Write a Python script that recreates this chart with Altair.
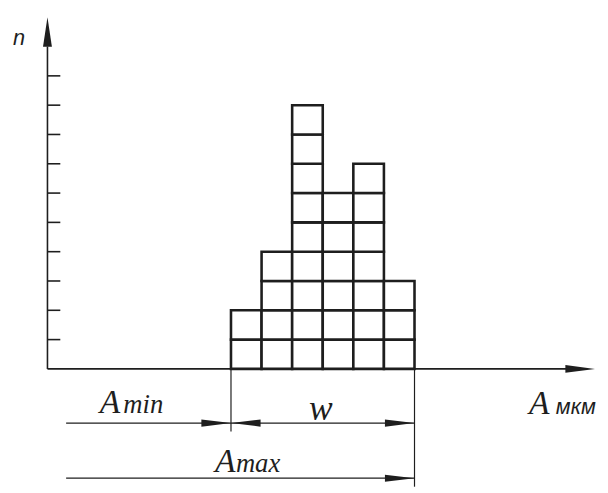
import altair as alt
import pandas as pd

# ---------------- data ----------------
bin_start = [6, 7, 8, 9, 10, 11]      # start of each size interval (interval widths from origin)
counts = [2, 4, 9, 6, 7, 3]           # number of parts n in each interval
n_ticks = [1, 2, 3, 4, 5, 6, 7, 8, 9, 10]
A_MIN = 6
A_MAX = 12

# ---------------- layout (axis units) ----------------
W, H = 600, 485
X_DOMAIN = [-40 / 31, 560 / 31]
Y_DOMAIN = [(362.5 - H) / 29.7, 362.5 / 29.7]
X_TIP, Y_TIP = 17.9, 12.0
TICK_LEN = 0.42
DIM_LEFT = 0.61
Y_DIM1, Y_DIM2 = -1.85, -3.73
EXT_LEFT_END, EXT_RIGHT_END = -2.14, -4.02
INK = "#1e1e1e"

xs = alt.Scale(domain=X_DOMAIN, nice=False, zero=False)
ys = alt.Scale(domain=Y_DOMAIN, nice=False, zero=False)

cells = pd.DataFrame([
    {"x": s, "x2": s + 1, "y": k, "y2": k + 1}
    for s, c in zip(bin_start, counts) for k in range(c)
])

segs = [
    # axes
    dict(x=0, x2=0, y=0, y2=Y_TIP - 1.0, w=1.6),
    dict(x=0, x2=X_TIP - 0.9, y=0, y2=0, w=1.6),
    # extension lines
    dict(x=A_MIN, x2=A_MIN, y=0, y2=EXT_LEFT_END, w=1.2),
    dict(x=A_MAX, x2=A_MAX, y=0, y2=EXT_RIGHT_END, w=1.2),
    # dimension lines
    dict(x=DIM_LEFT, x2=A_MIN, y=Y_DIM1, y2=Y_DIM1, w=1.3),
    dict(x=A_MIN, x2=A_MAX, y=Y_DIM1, y2=Y_DIM1, w=1.3),
    dict(x=DIM_LEFT, x2=A_MAX, y=Y_DIM2, y2=Y_DIM2, w=1.3),
]
for t in n_ticks:
    segs.append(dict(x=0, x2=TICK_LEN, y=t, y2=t, w=1.6))
segs = pd.DataFrame(segs)

RIGHT = "M0,0L-2,-0.24L-2,0.24Z"
LEFT = "M0,0L2,-0.24L2,0.24Z"
UP = "M0,0L-0.3,2L0.3,2Z"
RIGHT_AX = "M0,0L-2,-0.26L-2,0.26Z"
heads = pd.DataFrame([
    dict(x=0, y=Y_TIP, shape=UP),
    dict(x=X_TIP, y=0, shape=RIGHT_AX),
    dict(x=A_MIN, y=Y_DIM1, shape=RIGHT),
    dict(x=A_MIN, y=Y_DIM1, shape=LEFT),
    dict(x=A_MAX, y=Y_DIM1, shape=RIGHT),
    dict(x=A_MAX, y=Y_DIM2, shape=RIGHT),
])

# label text, position (axis units), font, size
labels = [
    dict(x=1.71, y=-1.50, text="A", font="Liberation Serif", size=34),
    dict(x=2.48, y=-1.50, text="min", font="Liberation Serif", size=27),
    dict(x=5.48, y=-3.52, text="A", font="Liberation Serif", size=34),
    dict(x=6.16, y=-3.52, text="max", font="Liberation Serif", size=27),
    dict(x=15.74, y=-1.53, text="A", font="Liberation Serif", size=34),
    dict(x=8.55, y=-1.73, text="w", font="Liberation Serif", size=36),
    dict(x=16.62, y=-1.53, text="мкм", font="Liberation Sans", size=22),
    dict(x=-1.13, y=11.05, text="n", font="Liberation Sans", size=22),
]

cell_layer = alt.Chart(cells).mark_rect(
    fill="white", stroke=INK, strokeWidth=2.6
).encode(
    x=alt.X("x:Q", scale=xs, axis=None),
    x2="x2:Q",
    y=alt.Y("y:Q", scale=ys, axis=None),
    y2="y2:Q",
)

seg_layer = alt.Chart(segs).mark_rule(color=INK).encode(
    x=alt.X("x:Q", scale=xs, axis=None),
    x2="x2:Q",
    y=alt.Y("y:Q", scale=ys, axis=None),
    y2="y2:Q",
    strokeWidth=alt.StrokeWidth("w:Q", scale=None, legend=None),
)

head_layer = alt.Chart(heads).mark_point(
    filled=True, color=INK, opacity=1, size=900, strokeWidth=0
).encode(
    x=alt.X("x:Q", scale=xs, axis=None),
    y=alt.Y("y:Q", scale=ys, axis=None),
    shape=alt.Shape("shape:N", scale=None, legend=None),
)

text_layers = []
for lab in labels:
    text_layers.append(
        alt.Chart(pd.DataFrame([dict(x=lab["x"], y=lab["y"], text=lab["text"])])).mark_text(
            font=lab["font"], fontStyle="italic", fontSize=lab["size"],
            align="left", baseline="alphabetic", color=INK
        ).encode(
            x=alt.X("x:Q", scale=xs, axis=None),
            y=alt.Y("y:Q", scale=ys, axis=None),
            text="text:N",
        )
    )

chart = alt.layer(
    seg_layer, cell_layer, head_layer, *text_layers
).properties(
    width=W, height=H, padding=0, autosize=alt.AutoSizeParams(type="none"),
    background="white",
).configure_view(stroke=None)

chart.save("out.html", embed_options={"renderer": "svg", "actions": False})
